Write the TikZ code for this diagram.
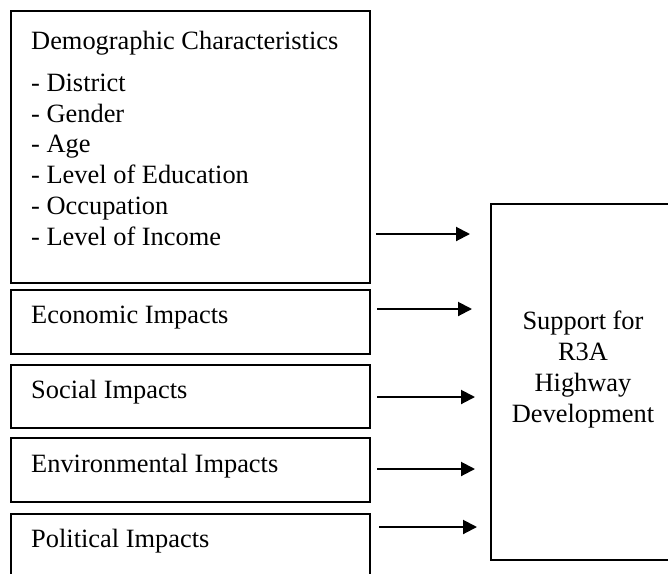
\documentclass[tikz,border=0pt]{standalone}
\usepackage{fontspec}
\setmainfont{Liberation Serif}
\usetikzlibrary{calc,arrows.meta}
\begin{document}
\begin{tikzpicture}[x=1pt,y=-1pt,
  box/.style={draw,line width=2pt,rectangle,inner sep=0pt,anchor=north west},
  lbl/.style={anchor=base west,inner sep=0pt,font=\fontsize{26.4}{30.7}\selectfont,align=left},
  arr/.style={line width=2pt,-{Triangle[length=14pt,width=14pt]}}]
\useasboundingbox (0,0) rectangle (668,573);
\begin{scope}
\clip (0,0) rectangle (668,573);
% input factor boxes
\node[box,minimum width=359pt,minimum height=272pt] (demo) at (10,10) {};
\node[box,minimum width=359pt,minimum height=64pt] (econ) at (10,289) {};
\node[box,minimum width=359pt,minimum height=63pt] (soc) at (10,364) {};
\node[box,minimum width=359pt,minimum height=64pt] (env) at (10,437) {};
\node[box,minimum width=359pt,minimum height=80pt] (pol) at (10,513) {};
% outcome box
\node[box,minimum width=230pt,minimum height=356pt] (sup) at (490,203) {};
\end{scope}
% box texts (multi-line nodes sit on the baseline of their last line)
\node[lbl] (demotitle) at (31,49) {Demographic Characteristics};
\node[lbl] (demolist) at (31,245) {- District\\- Gender\\- Age\\- Level of Education\\- Occupation\\- Level of Income};
\node[lbl] (econtxt) at (31,323) {Economic Impacts};
\node[lbl] (soctxt) at (31,398) {Social Impacts};
\node[lbl] (envtxt) at (31,472) {Environmental Impacts};
\node[lbl] (poltxt) at (31,547) {Political Impacts};
\node[lbl,anchor=base,align=center] (suptxt) at (583,422) {Support for\\R3A\\Highway\\Development};
% arrows into the outcome box
\draw[arr] ($(demo.east |- 0,234)+(5,0)$) -- ($(sup.west |- 0,234)+(-20,0)$);
\draw[arr] ($(econ.east |- 0,309)+(6,0)$) -- ($(sup.west |- 0,309)+(-18,0)$);
\draw[arr] ($(soc.east |- 0,397)+(6,0)$) -- ($(sup.west |- 0,397)+(-15,0)$);
\draw[arr] ($(env.east |- 0,469)+(6,0)$) -- ($(sup.west |- 0,469)+(-15,0)$);
\draw[arr] ($(pol.east |- 0,527)+(8,0)$) -- ($(sup.west |- 0,527)+(-13,0)$);
\end{tikzpicture}
\end{document}
